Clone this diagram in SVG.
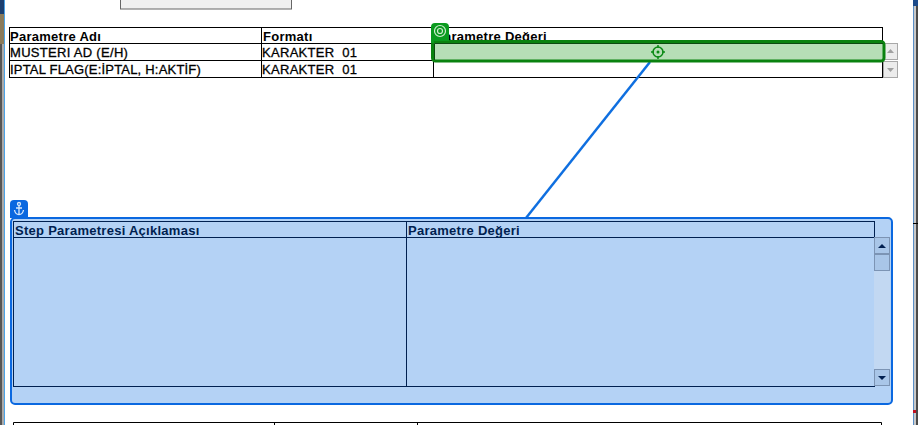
<svg xmlns="http://www.w3.org/2000/svg" width="918" height="425" viewBox="0 0 918 425">
<style>
text{font-family:"Liberation Sans",Arial,sans-serif;font-size:13px;font-weight:400;fill:#000;white-space:pre}
.r{stroke:#000;stroke-width:.3px;letter-spacing:.3px}
.b{font-weight:700;letter-spacing:.27px}
.d{fill:#001f50}
.t{fill:none;stroke:#000;stroke-width:1}
.n{stroke:#002050;fill:none}
.sb{fill:#ececec;stroke:#a8a8a8}
.sb2{fill:#a9c6e8;stroke:#7c94b4}
</style>
<rect width="918" height="425" fill="#fff"/>
<g id="window-chrome">
<rect x="0" y="0" width="2" height="425" fill="#555"/>
<rect x="2" y="0" width="2" height="425" fill="#aaa"/>
<rect x="0" y="0" width="4" height="14" fill="#1c3f70"/>
<rect x="0" y="14" width="4" height="30" fill="#8a7a5a"/>
<rect x="4" y="0" width="1" height="425" fill="#4aa3e8"/>
<rect x="913" y="0" width="1" height="425" fill="#5a8fc8"/>
<rect x="914" y="0" width="2" height="425" fill="#c8c8c8"/>
<rect x="916" y="0" width="2" height="425" fill="#4a4a4a"/>
<rect x="913" y="0" width="5" height="6" fill="#1c4a8a"/>
<rect x="913" y="223" width="5" height="1" fill="#000"/>
<rect x="913" y="410" width="3" height="3" fill="#c01020"/>
</g>
<g id="button"><rect x="120.500" y="-5" width="171" height="14" fill="#f0f0f0" stroke="#666"/></g>
<g id="top-table">
<rect class="t" x="9.500" y="27.500" width="873" height="50"/>
<path class="t" d="M9.500 43.500H882.500M9.500 60.500H882.500M261.500 27.500V77.500M433.500 27.500V77.500"/>
<text class="b" x="10" y="41">Parametre Adı</text>
<text class="b" x="263" y="41">Formatı</text>
<text class="b" x="435" y="41">Parametre Değeri</text>
<text class="r" x="10" y="57">MUSTERI AD (E/H)</text>
<text class="r" x="262" y="57">KARAKTER  01</text>
<text class="r" x="10" y="74" style="letter-spacing:.2px">IPTAL FLAG(E:İPTAL, H:AKTİF)</text>
<text class="r" x="262" y="74">KARAKTER  01</text>
</g>
<g id="top-scroll">
<rect class="sb" x="883.500" y="43.500" width="14" height="16"/>
<path d="M887 53l3.500-4 3.500 4z" fill="#a0a0a0"/>
<rect class="sb" x="883.500" y="61.500" width="14" height="16"/>
<path d="M887 68l3.500 4 3.500-4z" fill="#a0a0a0"/>
</g>
<g id="connectors">
<path d="M650 62L526 218" fill="none" stroke="#0f6fe0" stroke-width="2.500"/>
</g>
<g id="target-node">
<rect x="432.500" y="41.500" width="451.500" height="19.500" rx="3" fill="#b6deb6" stroke="#0a820f" stroke-width="3"/>
<path d="M434.500 43.500H883M434.500 43.500V60" stroke="#0c4a10" stroke-width="1" fill="none"/>
<path d="M431 43V27a4 4 0 0 1 4-4h10a4 4 0 0 1 4 4V41H434V43z" fill="#0a9a1e"/>
<circle cx="440" cy="31" r="5.500" fill="none" stroke="#cfeccf" stroke-width="1.200"/>
<circle cx="440" cy="31" r="2.500" fill="none" stroke="#cfeccf" stroke-width="1.200"/>
<g fill="none" stroke="#0a8a14" stroke-width="1.500">
<circle cx="658" cy="52" r="5"/>
<path d="M658 45v3M658 56v3M651 52h3M662 52h3"/>
</g>
<circle cx="658" cy="52" r="1.500" fill="#0a8a14"/>
</g>
<g id="source-node">
<rect x="11" y="218" width="881" height="186" rx="4" fill="#b4d2f5" stroke="#0a68e0" stroke-width="2"/>
<path d="M10 218V204a4 4 0 0 1 4-4h10a4 4 0 0 1 4 4v14z" fill="#0a68e0"/>
<g fill="none" stroke="#d8e8fa" stroke-width="1.300">
<circle cx="19" cy="204" r="1.500"/>
<path d="M19 205.500V214M16 208h6M14.500 210c.5 3 2.500 4.500 4.500 4.500s4-1.500 4.500-4.500"/>
</g>
<rect class="n" x="13.500" y="221.500" width="861" height="165"/>
<path class="n" d="M13.500 237.500H874.500M406.500 221.500V386.500"/>
<text class="b d" x="15" y="235">Step Parametresi Açıklaması</text>
<text class="b d" x="408" y="235">Parametre Değeri</text>
<rect x="874" y="238" width="16" height="148" fill="#c2d8f2"/>
<rect class="sb2" x="874.500" y="237.500" width="15" height="16"/>
<path d="M878 248l4-4 4 4z" fill="#001f50"/>
<rect class="sb2" x="874.500" y="254.500" width="15" height="16"/>
<rect class="sb2" x="874.500" y="369.500" width="15" height="16"/>
<path d="M878 376l4 4 4-4z" fill="#001f50"/>
</g>
<g id="bottom-table">
<path class="t" d="M13.500 425V422.500H881.500V425M274.500 422.500V425M417.500 422.500V425"/>
</g>
</svg>
